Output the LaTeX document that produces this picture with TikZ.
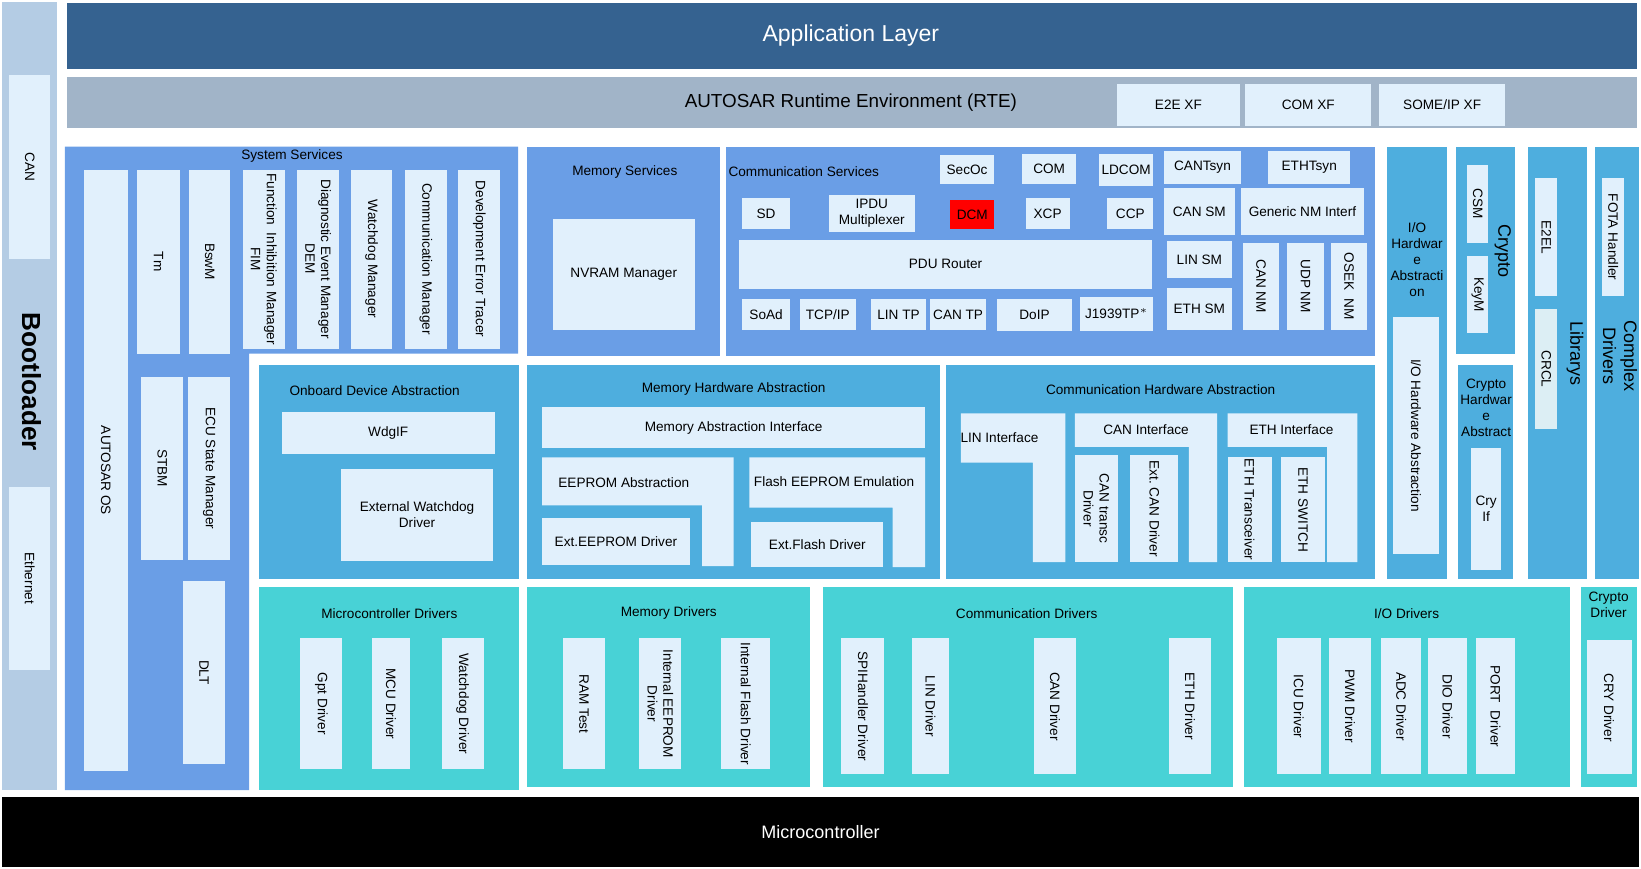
\documentclass[tikz,border=0pt]{standalone}
\usepackage{fontspec}
\setmainfont{Liberation Sans}
\usetikzlibrary{positioning}
\definecolor{appblue}{HTML}{356290}
\definecolor{rtegray}{HTML}{A1B4C8}
\definecolor{bootblue}{HTML}{B4CCE4}
\definecolor{inner}{HTML}{E1F0FC}
\definecolor{srvblue}{HTML}{6A9EE6}
\definecolor{hwblue}{HTML}{4EAEDE}
\definecolor{drvcyan}{HTML}{48D2D6}
\definecolor{crcl}{HTML}{DCEEF4}
\tikzset{
  lbl/.style={font=\fontsize{6.5}{7.6}\selectfont, align=center, inner sep=0pt},
  big/.style={font=\fontsize{8.6}{10}\selectfont, align=center, inner sep=0pt},
  vert/.style={rotate=-90}
}
% box with horizontal text: style, name, x1, y1, x2, y2, text
\newcommand{\blk}[7]{%
  \fill[#1] (#3,#4) rectangle (#5,#6);
  \node[lbl] (#2) at ({(#3+#5)/2},{(#4+#6)/2}) {#7};}
% box with text read top to bottom
\newcommand{\vblk}[7]{%
  \fill[#1] (#3,#4) rectangle (#5,#6);
  \node[lbl, vert] (#2) at ({(#3+#5)/2},{(#4+#6)/2}) {#7};}
\begin{document}
\begin{tikzpicture}[x=0.5pt, y=-0.5pt]
    \useasboundingbox (0,0) rectangle (1568,829.4);

    % Bootloader column
    \fill[bootblue] (2,2) rectangle (54,755);
    \vblk{inner}{bcan}{9}{72}{48}{247}{CAN}
    \vblk{inner}{beth}{9}{465}{48}{640}{Ethernet}
    \node[vert, font=\fontsize{12.5}{14}\selectfont\bfseries] (boot) at (30,365) {Bootloader};

    % Application layer and RTE
    \fill[appblue] (64,3) rectangle (1564,66);
    \node[font=\fontsize{11}{13}\selectfont, text=white] (app) at (813,34) {Application Layer};
    \fill[rtegray] (64,74) rectangle (1564,122);
    \node[font=\fontsize{9}{11}\selectfont] (rte) at (813,98) {AUTOSAR Runtime Environment (RTE)};
    \blk{inner}{e2exf}{1067}{80}{1185}{120}{E2E XF}
    \blk{inner}{comxf}{1190}{80}{1310}{120}{COM XF}
    \blk{inner}{somexf}{1318}{80}{1438}{120}{SOME/IP XF}

    % System services
    \fill[srvblue] (62,140) -- (495,140) -- (495,338) -- (238,338) -- (238,755) -- (62,755) -- cycle;
    \node[lbl] (syssrv) at (279,149) {System Services};
    \vblk{inner}{os}{80}{162}{122}{737}{AUTOSAR OS}
    \vblk{inner}{tm}{131}{162}{172}{338}{Tm}
    \vblk{inner}{bswm}{181}{162}{220}{338}{BswM}
    \vblk{inner}{fim}{232}{162}{272}{333}{Function\ \ Inhibition Manager\\FIM}
    \vblk{inner}{dem}{284}{162}{324}{333}{Diagnostic Event Manager\\DEM}
    \vblk{inner}{wdgm}{335}{162}{375}{333}{Watchdog Manager}
    \vblk{inner}{comm}{387}{162}{427}{333}{Communication Manager}
    \vblk{inner}{det}{438}{162}{478}{333}{Development Error Tracer}
    \vblk{inner}{stbm}{135}{360}{175}{535}{STBM}
    \vblk{inner}{ecum}{180}{360}{220}{535}{ECU State Manager}
    \vblk{inner}{dlt}{175}{555}{215}{730}{DLT}

    % Memory services
    \fill[srvblue] (504,140) rectangle (688,340);
    \node[lbl] (memsrv) at (597,164) {Memory Services};
    \blk{inner}{nvram}{528}{209}{664}{315}{NVRAM Manager}

    % Communication services
    \fill[srvblue] (694,140) rectangle (1314,340);
    \node[lbl] (comsrv) at (768,164) {Communication Services};
    \blk{inner}{secoc}{898}{148}{950}{176}{SecOc}
    \blk{inner}{com}{977}{147}{1028}{176}{COM}
    \blk{inner}{ldcom}{1050}{147}{1102}{178}{LDCOM}
    \blk{inner}{cantsyn}{1112}{144}{1186}{176}{CANTsyn}
    \blk{inner}{ethtsyn}{1212}{144}{1290}{176}{ETHTsyn}
    \blk{inner}{sd}{709}{189}{755}{219}{SD}
    \blk{inner}{ipdu}{792}{186}{874}{222}{IPDU\\Multiplexer}
    \blk{red}{dcm}{908}{191}{950}{219}{DCM}
    \blk{inner}{xcp}{980}{189}{1022}{219}{XCP}
    \blk{inner}{ccp}{1058}{189}{1102}{219}{CCP}
    \blk{inner}{cansm}{1112}{180}{1180}{225}{CAN SM}
    \blk{inner}{gennm}{1186}{180}{1303}{225}{Generic NM Interf}
    \blk{inner}{pdur}{706}{229}{1101}{276}{PDU Router}
    \blk{inner}{linsm}{1115}{230}{1177}{266}{LIN SM}
    \blk{inner}{ethsm}{1115}{275}{1177}{315}{ETH SM}
    \vblk{inner}{cannm}{1188}{232}{1222}{315}{CAN NM}
    \vblk{inner}{udpnm}{1230}{232}{1265}{315}{UDP NM}
    \vblk{inner}{oseknm}{1272}{232}{1306}{315}{OSEK\ \ NM}
    \blk{inner}{soad}{709}{286}{755}{315}{SoAd}
    \blk{inner}{tcpip}{764}{286}{818}{315}{TCP/IP}
    \blk{inner}{lintp}{832}{286}{885}{315}{LIN TP}
    \blk{inner}{cantp}{889}{286}{942}{315}{CAN TP}
    \blk{inner}{doip}{953}{286}{1024}{316}{DoIP}
    \blk{inner}{jtp}{1032}{284}{1102}{316}{J1939TP$^{*}$}

    % I/O hardware abstraction
    \fill[hwblue] (1325,140) rectangle (1383,553);
    \node[lbl] (iohwt) at (1354,248) {I/O\\Hardwar\\e\\Abstracti\\on};
    \vblk{inner}{iohw}{1331}{303}{1375}{529}{I/O Hardware Abstraction}

    % Crypto
    \fill[hwblue] (1391,140) rectangle (1448,338);
    \vblk{inner}{csm}{1402}{158}{1422}{232}{CSM}
    \vblk{inner}{keym}{1402}{245}{1422}{318}{KeyM}
    \node[big, vert] (crypto) at (1436,240) {Crypto};
    \fill[hwblue] (1393,349) rectangle (1446,553);
    \node[lbl] (cryhwt) at (1420,390) {Crypto\\Hardwar\\e\\Abstract};
    \blk{inner}{cryif}{1406}{428}{1434}{545}{Cry\\If}

    % Libraries and complex drivers
    \fill[hwblue] (1460,140) rectangle (1516,553);
    \vblk{inner}{e2el}{1467}{170}{1488}{283}{E2EL}
    \vblk{crcl}{crcl}{1467}{295}{1488}{410}{CRCL}
    \node[big, vert] (libs) at (1505,338) {Librarys};
    \fill[hwblue] (1524,140) rectangle (1566,553);
    \vblk{inner}{fota}{1531}{170}{1552}{283}{FOTA Handler}
    \node[big, vert] (cdd) at (1548,340) {Complex\\Drivers};

    % Onboard device abstraction
    \fill[hwblue] (247,349) rectangle (496,553);
    \node[lbl] (onbt) at (358,373) {Onboard Device Abstraction};
    \blk{inner}{wdgif}{269}{394}{473}{434}{WdgIF}
    \blk{inner}{extwd}{326}{448}{471}{536}{External Watchdog\\Driver}

    % Memory hardware abstraction
    \fill[hwblue] (504,349) rectangle (898,553);
    \node[lbl] (memhwt) at (701,372) {Memory Hardware Abstraction};
    \blk{inner}{memif}{518}{389}{884}{428}{Memory Abstraction Interface}
    \fill[inner] (518,437) -- (701,437) -- (701,541) -- (671,541) -- (671,483) -- (518,483) -- cycle;
    \node[lbl] (eepabs) at (596,461) {EEPROM Abstraction};
    \blk{inner}{exteep}{518}{495}{659}{540}{Ext.EEPROM Driver}
    \fill[inner] (716,437) -- (884,437) -- (884,542) -- (853,542) -- (853,485) -- (716,485) -- cycle;
    \node[lbl] (fee) at (797,460) {Flash EEPROM Emulation};
    \blk{inner}{extfls}{718}{499}{844}{542}{Ext.Flash Driver}

    % Communication hardware abstraction
    \fill[hwblue] (904,349) rectangle (1314,553);
    \node[lbl] (comhwt) at (1109,372) {Communication Hardware Abstraction};
    \fill[inner] (918,395) -- (1018,395) -- (1018,537) -- (987,537) -- (987,442) -- (918,442) -- cycle;
    \node[lbl] (linif) at (955,418) {LIN Interface};
    \fill[inner] (1027,395) -- (1163,395) -- (1163,537) -- (1136,537) -- (1136,427) -- (1027,427) -- cycle;
    \node[lbl] (canif) at (1095,411) {CAN Interface};
    \vblk{inner}{cantrcv}{1027}{435}{1068}{537}{CAN transc\\Driver}
    \vblk{inner}{extcan}{1080}{435}{1126}{537}{Ext.\ CAN Driver}
    \fill[inner] (1173,395) -- (1297,395) -- (1297,537) -- (1268,537) -- (1268,427) -- (1173,427) -- cycle;
    \node[lbl] (ethif) at (1234,411) {ETH Interface};
    \vblk{inner}{ethtrcv}{1173}{437}{1215}{537}{ETH Transceiver}
    \vblk{inner}{ethsw}{1224}{437}{1266}{537}{ETH SWITCH}

    % Microcontroller drivers
    \fill[drvcyan] (247,561) rectangle (496,755);
    \node[lbl] (mcudrvt) at (372,586) {Microcontroller Drivers};
    \vblk{inner}{gpt}{287}{610}{327}{735}{Gpt Driver}
    \vblk{inner}{mcu}{355}{610}{392}{735}{MCU Driver}
    \vblk{inner}{wdg}{422}{610}{462}{735}{Watchdog Driver}

    % Memory drivers
    \fill[drvcyan] (504,561) rectangle (774,752);
    \node[lbl] (memdrvt) at (639,586) {Memory Drivers};
    \vblk{inner}{ramtst}{538}{610}{578}{735}{RAM Test}
    \vblk{inner}{inteep}{611}{610}{651}{735}{Internal EEPROM\\Driver}
    \vblk{inner}{intfls}{689}{610}{736}{735}{Internal Flash Driver}

    % Communication drivers
    \fill[drvcyan] (786,561) rectangle (1178,752);
    \node[lbl] (comdrvt) at (981,586) {Communication Drivers};
    \vblk{inner}{spi}{804}{610}{845}{740}{SPIHandler Driver}
    \vblk{inner}{lin}{871}{610}{907}{740}{LIN Driver}
    \vblk{inner}{can}{988}{610}{1028}{740}{CAN Driver}
    \vblk{inner}{eth}{1117}{610}{1157}{740}{ETH Driver}

    % I/O drivers
    \fill[drvcyan] (1189,561) rectangle (1500,752);
    \node[lbl] (iodrvt) at (1344,586) {I/O Drivers};
    \vblk{inner}{icu}{1220}{610}{1262}{740}{ICU Driver}
    \vblk{inner}{pwm}{1270}{610}{1310}{740}{PWM Driver}
    \vblk{inner}{adc}{1320}{610}{1358}{740}{ADC Driver}
    \vblk{inner}{dio}{1364}{610}{1402}{740}{DIO Driver}
    \vblk{inner}{port}{1410}{610}{1448}{740}{PORT\ \ Driver}

    % Crypto driver
    \fill[drvcyan] (1511,561) rectangle (1564,752);
    \node[lbl] (crydrvt) at (1537,578) {Crypto\\Driver};
    \vblk{inner}{cry}{1516}{612}{1559}{740}{CRY Driver}

    % Microcontroller
    \fill[black] (2,762) rectangle (1566,828);
    \node[font=\fontsize{8.6}{10}\selectfont, text=white] (mcal) at (784,795) {Microcontroller};

\end{tikzpicture}
\end{document}
